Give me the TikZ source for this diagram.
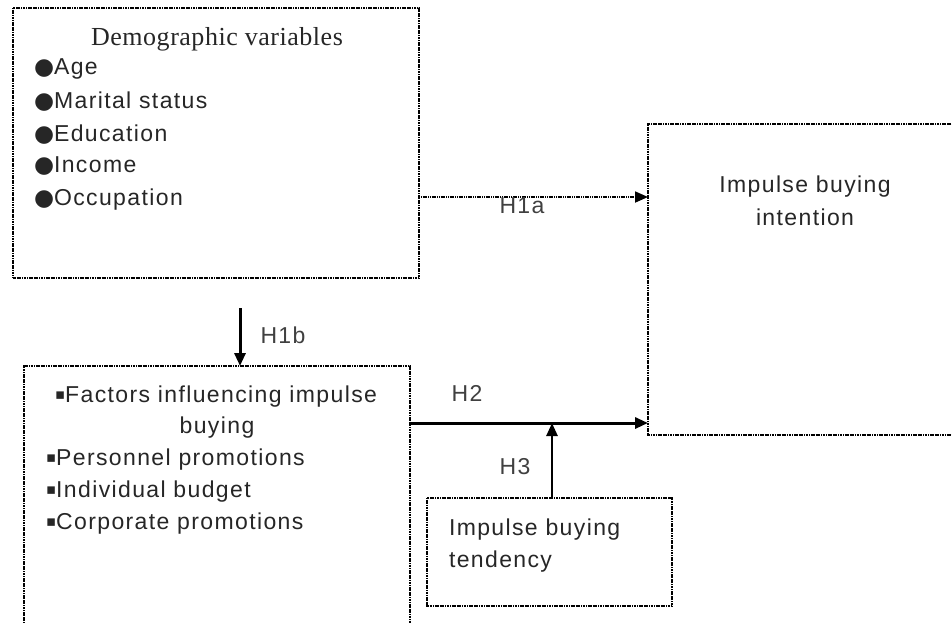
\documentclass[tikz,border=0pt]{standalone}
\usepackage{fontspec}
\setmainfont{Liberation Sans}[LetterSpace=6]
\newfontfamily\titlefont{Liberation Serif}[LetterSpace=2]
\newfontfamily\symfont{DejaVu Sans}
\usetikzlibrary{arrows.meta}
\newcommand{\bigdot}{{\symfont\fontsize{23}{23}\selectfont\addfontfeature{LetterSpace=0}●}}
\newcommand{\sqdot}{\raisebox{3pt}{\symfont\fontsize{15}{15}\selectfont ▪}}
\begin{document}
\begin{tikzpicture}[x=1pt,y=-1pt,
  every node/.style={inner sep=0pt, outer sep=0pt, font=\fontsize{23}{28}\selectfont, text=black!85},
  boxnode/.style={rectangle, draw=none},
  boxline/.style={draw=black, dash pattern=on 1.2pt off 0.5pt, line width=1.5pt},
  txt/.style={anchor=base west},
  ctxt/.style={anchor=base},
  lbl/.style={anchor=base, text=black!75},
  tip/.style={-{Triangle[length=13pt,width=11pt]}},
  dotarrow/.style={tip, dash pattern=on 1.2pt off 0.6pt, line width=1.8pt},
  thickarrow/.style={tip, line width=3pt},
  midarrow/.style={tip, line width=2.6pt}]
\useasboundingbox (0,0) rectangle (952,622);

% boxes
\node[boxnode, minimum width=406pt, minimum height=270pt] (demo) at (216,143) {};
\node[boxnode, minimum width=386pt, minimum height=274pt] (fac) at (217,503) {};
\node[boxnode, minimum width=322pt, minimum height=311pt] (intent) at (809,279.5) {};
\node[boxnode, minimum width=245pt, minimum height=108pt] (tend) at (549.5,552) {};

\draw[boxline] (demo.north west) rectangle (demo.south east);
\draw[boxline] (fac.south west) -- (fac.north west) -- (fac.north east) -- (fac.south east);
\draw[boxline] (intent.north east) -- (intent.north west) -- (intent.south west) -- (intent.south east);
\draw[boxline] (tend.north west) rectangle (tend.south east);

% texts in demographic box
\node[ctxt] (demotitle) at (217,45) {\titlefont\fontsize{26}{30}\selectfont Demographic variables};
\node[txt] (age) at (34,74) {\bigdot Age};
\node[txt] (marital) at (34,108) {\bigdot Marital status};
\node[txt] (edu) at (34,141) {\bigdot Education};
\node[txt] (inc) at (34,172) {\bigdot Income};
\node[txt] (occ) at (34,205) {\bigdot Occupation};

% texts in factors box
\node[ctxt] (factitle) at (216,402) {\sqdot Factors influencing impulse};
\node[ctxt] (factitle2) at (217,433) {buying};
\node[txt] (pers) at (46,465) {\sqdot Personnel promotions};
\node[txt] (indiv) at (46,497) {\sqdot Individual budget};
\node[txt] (corp) at (46,529) {\sqdot Corporate promotions};

% texts in intention box
\node[ctxt] (int1) at (805,192) {Impulse buying};
\node[ctxt] (int2) at (805,225) {intention};

% texts in tendency box
\node[txt] (ten1) at (449,535) {Impulse buying};
\node[txt] (ten2) at (449,567) {tendency};

% connectors
\coordinate (y197) at (0,197);
\coordinate (y423) at (0,423);
\coordinate (h1bs) at (240,308);
\coordinate (h3x) at (552,0);

\draw[dotarrow] (demo.east |- y197) -- (intent.west |- y197);
\draw[thickarrow] (h1bs) -- (h1bs |- fac.north);
\draw[thickarrow] (fac.east |- y423) -- (intent.west |- y423);
\draw[midarrow] (tend.north -| h3x) -- (h3x |- y423);

% labels
\node[lbl] (lh1a) at (522,213) {H1a};
\node[lbl] (lh1b) at (283,343) {H1b};
\node[lbl] (lh2) at (467,401) {H2};
\node[lbl] (lh3) at (515,474) {H3};
\end{tikzpicture}
\end{document}
